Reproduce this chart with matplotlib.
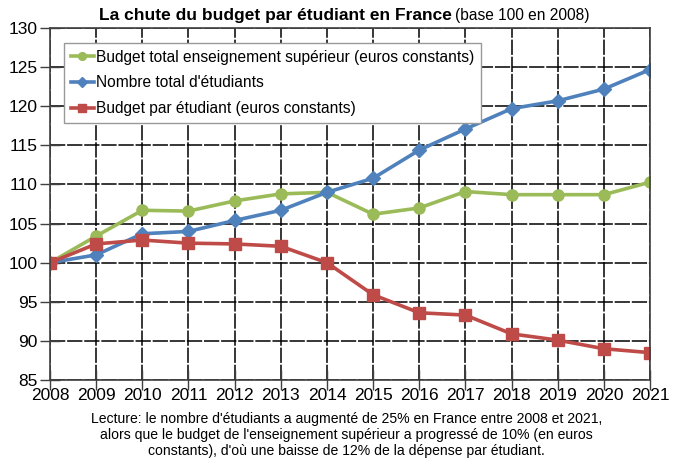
import matplotlib.pyplot as plt

plt.rcParams['font.family'] = ['Liberation Sans', 'DejaVu Sans']

years = list(range(2008, 2022))
budget_total = [100, 103.4, 106.7, 106.6, 107.9, 108.8, 109.0, 106.2, 107.0, 109.1, 108.7, 108.7, 108.7, 110.3]
nb_etudiants = [100, 101.0, 103.7, 104.0, 105.4, 106.7, 109.0, 110.8, 114.4, 117.1, 119.7, 120.7, 122.2, 124.7]
budget_etud = [100, 102.4, 102.9, 102.5, 102.4, 102.1, 100.0, 95.9, 93.6, 93.3, 90.9, 90.1, 89.0, 88.5]

labels = ["Budget total enseignement supérieur (euros constants)",
          "Nombre total d'étudiants",
          "Budget par étudiant (euros constants)"]

fig = plt.figure(figsize=(6.8, 4.68), dpi=100)
ax = fig.add_axes([0.0735, 0.188, 0.8825, 0.752])

ax.plot(years, budget_total, color='#9bbb59', lw=2.6, marker='o', ms=8, label=labels[0])
ax.plot(years, nb_etudiants, color='#4f81bd', lw=2.6, marker='D', ms=7.5, label=labels[1])
ax.plot(years, budget_etud, color='#be4b48', lw=2.6, marker='s', ms=9, label=labels[2])

ax.set_xlim(2008, 2021)
ax.set_ylim(85, 130)
ax.set_xticks(years)
ax.set_yticks(range(85, 131, 5))
ax.grid(True, color='black', lw=1.1, linestyle=(0, (10, 1.2)))
ax.set_axisbelow(True)
for s in ax.spines.values():
    s.set_color('#404040')
    s.set_linewidth(1.2)
ax.tick_params(axis='both', direction='inout', length=14, width=1.0, color='#404040',
               labelsize=12.5)
ax.tick_params(axis='x', pad=-1)
ax.tick_params(axis='y', pad=2)

leg = ax.legend(loc='upper left', bbox_to_anchor=(0.01, 0.98), fontsize=11.2,
                handlelength=1.5, handletextpad=0.1, borderpad=0.45, labelspacing=0.68,
                fancybox=False, framealpha=1, edgecolor='#999999', markerscale=0.7)
leg.get_frame().set_linewidth(1.0)

fig.text(0.664, 0.966, "La chute du budget par étudiant en France", ha='right', va='center',
         fontsize=12.5, fontweight='bold')
fig.text(0.669, 0.966, "(base 100 en 2008)", ha='left', va='center', fontsize=11.2)

fig.text(0.51, 0.07, "Lecture: le nombre d'étudiants a augmenté de 25% en France entre 2008 et 2021,\n"
         "alors que le budget de l'enseignement supérieur a progressé de 10% (en euros\n"
         "constants), d'où une baisse de 12% de la dépense par étudiant.",
         ha='center', va='center', fontsize=10.1, linespacing=1.2)

fig.savefig('out.png', dpi=100)
